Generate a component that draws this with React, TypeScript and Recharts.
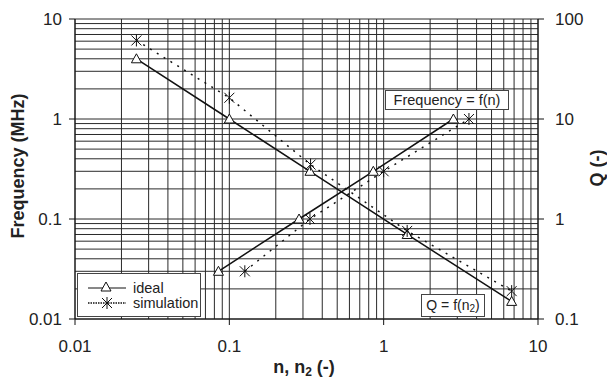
import { LineChart, Line, XAxis, YAxis, ReferenceLine } from "recharts";

// Frequency = f(n)
const FREQ_N_IDEAL = [0.025, 0.1, 0.333, 1.42, 6.75];
const FREQ_IDEAL = [4, 1, 0.3, 0.07, 0.015];
const FREQ_N_SIM = [0.025, 0.1, 0.336, 1.42, 6.75];
const FREQ_SIM = [6.1, 1.63, 0.35, 0.076, 0.019];

// Q = f(n2)
const Q_N2_IDEAL = [0.085, 0.283, 0.857, 2.83];
const Q_IDEAL = [0.3, 1, 3, 10];
const Q_N2_SIM = [0.126, 0.333, 1.0, 3.57];
const Q_SIM = [0.3, 1, 3, 10];

const X_TICKS = [0.01, 0.1, 1, 10];
const F_TICKS = [0.01, 0.1, 1, 10];
const Q_TICKS = [0.1, 1, 10, 100];

const toPoints = (xs: number[], ys: number[]) => xs.map((x, i) => ({ x, y: ys[i] }));

// log grid: 1..9 in every decade plus the closing value
const logGrid = (from: number, decades: number) => {
  const out: number[] = [];
  for (let d = 0; d < decades; d++) {
    const base = from * Math.pow(10, d);
    for (let k = 1; k <= 9; k++) out.push(+(k * base).toPrecision(3));
  }
  out.push(+(from * Math.pow(10, decades)).toPrecision(3));
  return out;
};
const X_GRID = logGrid(0.01, 3);
const F_GRID = logGrid(0.01, 3);

const INK = "#111";
const FONT = "'Liberation Sans', Arial, sans-serif";

const Triangle = ({ cx, cy }: { cx?: number; cy?: number }) => {
  if (cx == null || cy == null) return null;
  return (
    <polygon
      points={`${cx},${cy - 5} ${cx + 5},${cy + 4} ${cx - 5},${cy + 4}`}
      fill="#fff"
      stroke={INK}
      strokeWidth={1}
    />
  );
};

const Asterisk = ({ cx, cy }: { cx?: number; cy?: number }) => {
  if (cx == null || cy == null) return null;
  const r = 5;
  return (
    <g stroke={INK} strokeWidth={1}>
      <line x1={cx - r} y1={cy - r} x2={cx + r} y2={cy + r} />
      <line x1={cx - r} y1={cy + r} x2={cx + r} y2={cy - r} />
      <line x1={cx} y1={cy - r - 1} x2={cx} y2={cy + r + 1} />
    </g>
  );
};

const tickStyle = { fill: "#222", fontSize: 17, fontFamily: FONT };

const boxStyle: React.CSSProperties = {
  position: "absolute",
  background: "#fff",
  border: "1px solid #444",
  boxSizing: "border-box",
  fontFamily: FONT,
  color: "#222",
  fontSize: 14,
  display: "flex",
  alignItems: "center",
  justifyContent: "center",
};

export default function App() {
  return (
    <div style={{ position: "absolute", left: 0, top: 0, width: 607, height: 378, background: "#fff", fontFamily: FONT }}>
      <LineChart width={607} height={378} margin={{ top: 19, right: 19, bottom: 29, left: 15 }}>
        <XAxis
          dataKey="x"
          type="number"
          scale="log"
          domain={[0.01, 10]}
          ticks={X_TICKS}
          allowDataOverflow
          height={30}
          tickSize={6}
          tickMargin={15}
          stroke={INK}
          tick={tickStyle}
        />
        <YAxis
          yAxisId="f"
          type="number"
          scale="log"
          domain={[0.01, 10]}
          ticks={F_TICKS}
          allowDataOverflow
          width={60}
          tickSize={6}
          tickMargin={7}
          stroke={INK}
          tick={tickStyle}
        />
        <YAxis
          yAxisId="q"
          orientation="right"
          type="number"
          scale="log"
          domain={[0.1, 100]}
          ticks={Q_TICKS}
          allowDataOverflow
          width={50}
          tickSize={6}
          tickMargin={11}
          stroke={INK}
          tick={tickStyle}
        />
        {X_GRID.map((v) => (
          <ReferenceLine key={`vx${v}`} x={v} yAxisId="f" stroke="#2a2a2a" strokeWidth={1} ifOverflow="extendDomain" />
        ))}
        {F_GRID.map((v) => (
          <ReferenceLine key={`hy${v}`} y={v} yAxisId="f" stroke="#2a2a2a" strokeWidth={1} ifOverflow="extendDomain" />
        ))}
        <Line
          yAxisId="f"
          data={toPoints(FREQ_N_IDEAL, FREQ_IDEAL)}
          dataKey="y"
          stroke={INK}
          strokeWidth={1.5}
          dot={(p: any) => <Triangle key={`fi${p.index}`} cx={p.cx} cy={p.cy} />}
          isAnimationActive={false}
        />
        <Line
          yAxisId="f"
          data={toPoints(FREQ_N_SIM, FREQ_SIM)}
          dataKey="y"
          stroke={INK}
          strokeWidth={1.5}
          strokeDasharray="2 6"
          dot={(p: any) => <Asterisk key={`fs${p.index}`} cx={p.cx} cy={p.cy} />}
          isAnimationActive={false}
        />
        <Line
          yAxisId="q"
          data={toPoints(Q_N2_IDEAL, Q_IDEAL)}
          dataKey="y"
          stroke={INK}
          strokeWidth={1.5}
          dot={(p: any) => <Triangle key={`qi${p.index}`} cx={p.cx} cy={p.cy} />}
          isAnimationActive={false}
        />
        <Line
          yAxisId="q"
          data={toPoints(Q_N2_SIM, Q_SIM)}
          dataKey="y"
          stroke={INK}
          strokeWidth={1.5}
          strokeDasharray="2 6"
          dot={(p: any) => <Asterisk key={`qs${p.index}`} cx={p.cx} cy={p.cy} />}
          isAnimationActive={false}
        />
      </LineChart>

      {/* axis titles */}
      <div
        style={{
          position: "absolute",
          left: 18,
          top: 166,
          transform: "translate(-50%, -50%) rotate(-90deg)",
          whiteSpace: "nowrap",
          fontWeight: "bold",
          fontSize: 18,
          color: "#222",
        }}
      >
        Frequency (MHz)
      </div>
      <div
        style={{
          position: "absolute",
          left: 597,
          top: 168,
          transform: "translate(-50%, -50%) rotate(-90deg)",
          whiteSpace: "nowrap",
          fontWeight: "bold",
          fontSize: 18,
          color: "#222",
        }}
      >
        Q (-)
      </div>
      <div
        style={{
          position: "absolute",
          left: 304,
          top: 368,
          transform: "translate(-50%, -50%)",
          whiteSpace: "nowrap",
          fontWeight: "bold",
          fontSize: 18,
          color: "#222",
        }}
      >
        n, n<sub style={{ fontSize: 12, verticalAlign: "-3px" }}>2</sub> (-)
      </div>

      {/* curve labels */}
      <div style={{ ...boxStyle, left: 385, top: 90, width: 124, height: 20, fontSize: 14.5 }}>Frequency = f(n)</div>
      <div style={{ ...boxStyle, left: 421, top: 294, width: 64, height: 23 }}>
        <span>
          Q = f(n<sub style={{ fontSize: 10, verticalAlign: "-2px" }}>2</sub>)
        </span>
      </div>

      {/* legend */}
      <div
        style={{
          position: "absolute",
          left: 77,
          top: 273,
          width: 124,
          height: 44,
          background: "#fff",
          border: "1px solid #444",
          boxSizing: "border-box",
          fontSize: 14,
          color: "#222",
        }}
      >
        <svg width={122} height={42} style={{ position: "absolute", left: 0, top: 0 }}>
          <line x1={10} y1={14} x2={48} y2={14} stroke={INK} strokeWidth={1} />
          <Triangle cx={28} cy={13} />
          <line x1={10} y1={29} x2={48} y2={29} stroke={INK} strokeWidth={1.5} strokeDasharray="1.5 1" />
          <Asterisk cx={29} cy={29} />
          <text x={55} y={19} fontSize={14.5} fill="#222" fontFamily={FONT}>ideal</text>
          <text x={55} y={34} fontSize={14.5} fill="#222" fontFamily={FONT}>simulation</text>
        </svg>
      </div>
    </div>
  );
}
